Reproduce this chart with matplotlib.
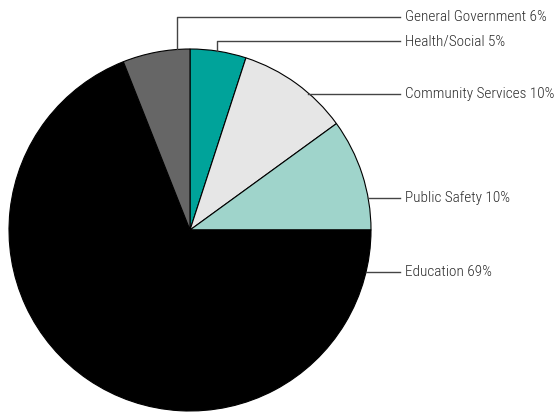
import numpy as np
import matplotlib.pyplot as plt

# spending shares
categories = ["Health/Social", "Community Services", "Public Safety", "Education", "General Government"]
shares = [5, 10, 10, 69, 6]
colors = ["#00a39a", "#e6e6e6", "#9fd4cb", "#000000", "#666666"]

# where each leader line leaves the pie (degrees) and the label row (pixels from top)
anchor_deg = [81.4, 49.2, 10.2, -13.4, 94.1]
label_y = [41, 94, 198, 272, 17]

W, H = 560, 412
fig = plt.figure(figsize=(W / 100, H / 100), dpi=100)
ax = fig.add_axes([0, 0, 1, 1])

cx, cy, r = 190, H - 230, 181
ax.pie(shares, colors=colors, startangle=90, counterclock=False,
       center=(cx, cy), radius=r, frame=True,
       wedgeprops=dict(edgecolor="black", linewidth=0.8))
ax.set_xlim(0, W)
ax.set_ylim(0, H)
ax.axis("off")

line_end = 400
for name, val, ang, ly in zip(categories, shares, anchor_deg, label_y):
    a = np.radians(ang)
    px = cx + r * np.cos(a)
    py = cy + r * np.sin(a)
    y = H - ly
    if y > py + 3:
        # elbow: straight up then across
        ax.plot([px, px, line_end], [py, y, y], color="#444444", lw=1)
    else:
        ax.plot([px, line_end], [y, y], color="#444444", lw=1)
    ax.text(line_end + 5, y, f"{name} {val}%", va="center", ha="left",
            fontsize=11, fontweight="light", color="#2a2a2a",
            family=['Roboto Condensed', 'Liberation Sans', 'DejaVu Sans'])

fig.savefig("out.png", dpi=100)
